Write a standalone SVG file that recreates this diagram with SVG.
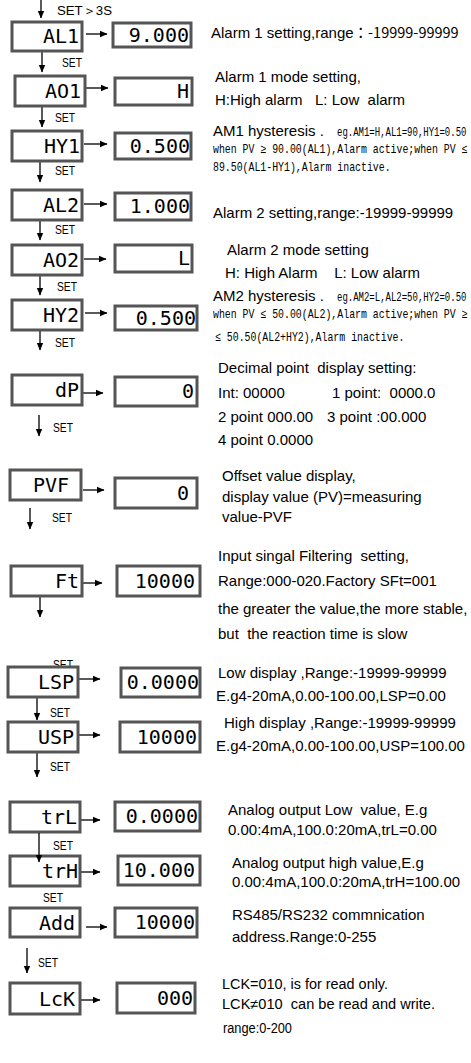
<svg xmlns="http://www.w3.org/2000/svg" width="471" height="1063" viewBox="0 0 471 1063">
<defs>
<marker id="ah" markerWidth="8" markerHeight="8" refX="7" refY="4" orient="auto" markerUnits="userSpaceOnUse">
<path d="M0,0.8 L7.5,4 L0,7.2 Z" fill="#000"/>
</marker>
<style>
.box{fill:#fff;stroke:#555;stroke-width:3}
.lcd{font-family:"DejaVu Sans Mono",monospace;font-size:20px;text-anchor:end;fill:#000}
.t{font-family:"Liberation Sans",Arial,sans-serif;font-size:15px;fill:#000}
.m{font-family:"Liberation Mono","Noto Sans CJK JP",monospace;font-size:12.5px;fill:#000}
.n{font-family:"Liberation Sans",Arial,sans-serif;font-size:14px;fill:#000}
.set{font-family:"Liberation Sans",Arial,sans-serif;font-size:13px;fill:#000}
.c{stroke:#000;stroke-width:1.3;fill:none;marker-end:url(#ah)}
</style>
</defs>
<rect width="471" height="1063" fill="#fff"/>

<g id="connectors">
<line class="c" x1="41" y1="0" x2="41" y2="18"/>
<line class="c" x1="42" y1="52" x2="42" y2="72"/>
<line class="c" x1="42" y1="107" x2="42" y2="127"/>
<line class="c" x1="40" y1="162" x2="40" y2="182"/>
<line class="c" x1="40" y1="221" x2="40" y2="240"/>
<line class="c" x1="40" y1="276" x2="40" y2="295"/>
<line class="c" x1="40" y1="331" x2="40" y2="350"/>
<line class="c" x1="39" y1="415" x2="39" y2="436"/>
<line class="c" x1="30" y1="508" x2="30" y2="529"/>
<line class="c" x1="40" y1="597" x2="40" y2="617"/>
<line class="c" x1="37" y1="698" x2="37" y2="720"/>
<line class="c" x1="37" y1="753" x2="37" y2="777"/>
<line class="c" x1="27" y1="948" x2="27" y2="973"/>
<line class="c" x1="86" y1="34" x2="107" y2="34"/>
<line class="c" x1="86" y1="88" x2="108" y2="88"/>
<line class="c" x1="84" y1="144" x2="107" y2="144"/>
<line class="c" x1="84" y1="204" x2="107" y2="204"/>
<line class="c" x1="84" y1="259" x2="106" y2="259"/>
<line class="c" x1="85" y1="313" x2="107" y2="313"/>
<line class="c" x1="82" y1="393" x2="103" y2="393"/>
<line class="c" x1="83" y1="490" x2="104" y2="490"/>
<line class="c" x1="80" y1="583" x2="102" y2="583"/>
<line class="c" x1="78" y1="679" x2="100" y2="679"/>
<line class="c" x1="78" y1="735" x2="100" y2="735"/>
<line class="c" x1="80" y1="820" x2="100" y2="820"/>
<line class="c" x1="80" y1="872" x2="100" y2="872"/>
<line class="c" x1="86" y1="927" x2="107" y2="927"/>
<line class="c" x1="80" y1="1000" x2="100" y2="1000"/>
</g>

<g id="set-labels">
<text class="set" x="57" y="15" textLength="55" lengthAdjust="spacingAndGlyphs">SET＞3S</text>
<text class="set" x="62" y="67" textLength="20" lengthAdjust="spacingAndGlyphs">SET</text>
<text class="set" x="55" y="122" textLength="20" lengthAdjust="spacingAndGlyphs">SET</text>
<text class="set" x="55" y="175" textLength="20" lengthAdjust="spacingAndGlyphs">SET</text>
<text class="set" x="55" y="234" textLength="20" lengthAdjust="spacingAndGlyphs">SET</text>
<text class="set" x="57" y="291" textLength="20" lengthAdjust="spacingAndGlyphs">SET</text>
<text class="set" x="55" y="347" textLength="20" lengthAdjust="spacingAndGlyphs">SET</text>
<text class="set" x="53" y="432" textLength="20" lengthAdjust="spacingAndGlyphs">SET</text>
<text class="set" x="52" y="522" textLength="20" lengthAdjust="spacingAndGlyphs">SET</text>
<text class="set" x="53" y="669" textLength="20" lengthAdjust="spacingAndGlyphs">SET</text>
<text class="set" x="50" y="717" textLength="20" lengthAdjust="spacingAndGlyphs">SET</text>
<text class="set" x="50" y="771" textLength="20" lengthAdjust="spacingAndGlyphs">SET</text>
<text class="set" x="53" y="850" textLength="20" lengthAdjust="spacingAndGlyphs">SET</text>
<text class="set" x="43" y="902" textLength="20" lengthAdjust="spacingAndGlyphs">SET</text>
<text class="set" x="38" y="967" textLength="20" lengthAdjust="spacingAndGlyphs">SET</text>
</g>

<g id="AL1"><rect class="box" x="12" y="22" width="70" height="29"/><text class="lcd" x="79" y="43">AL1</text></g>
<g id="AL1-val"><rect class="box" x="113" y="23" width="78" height="24"/><text class="lcd" x="189" y="42">9.000</text></g>
<g id="AO1"><rect class="box" x="15" y="76" width="70" height="30"/><text class="lcd" x="81" y="98">AO1</text></g>
<g id="AO1-val"><rect class="box" x="115" y="78" width="77" height="27"/><text class="lcd" x="189" y="98">H</text></g>
<g id="HY1"><rect class="box" x="12" y="131" width="70" height="30"/><text class="lcd" x="80" y="153">HY1</text></g>
<g id="HY1-val"><rect class="box" x="115" y="133" width="76" height="26"/><text class="lcd" x="190" y="153">0.500</text></g>
<g id="AL2"><rect class="box" x="12" y="190" width="70" height="30"/><text class="lcd" x="79" y="212">AL2</text></g>
<g id="AL2-val"><rect class="box" x="115" y="193" width="76" height="27"/><text class="lcd" x="190" y="213">1.000</text></g>
<g id="AO2"><rect class="box" x="12" y="245" width="70" height="30"/><text class="lcd" x="79" y="267">AO2</text></g>
<g id="AO2-val"><rect class="box" x="115" y="245" width="77" height="27"/><text class="lcd" x="190" y="265">L</text></g>
<g id="HY2"><rect class="box" x="12" y="300" width="70" height="30"/><text class="lcd" x="79" y="322">HY2</text></g>
<g id="HY2-val"><rect class="box" x="115" y="306" width="82" height="24"/><text class="lcd" x="196" y="325">0.500</text></g>
<g id="dP"><rect class="box" x="12" y="375" width="70" height="30"/><text class="lcd" x="79" y="397">dP</text></g>
<g id="dP-val"><rect class="box" x="115" y="377" width="82" height="29"/><text class="lcd" x="194" y="398">0</text></g>
<g id="PVF"><rect class="box" x="10" y="470" width="71" height="30"/><text class="lcd" x="69" y="492">PVF</text></g>
<g id="PVF-val"><rect class="box" x="115" y="478" width="82" height="30"/><text class="lcd" x="189" y="500">0</text></g>
<g id="Ft"><rect class="box" x="11" y="566" width="71" height="30"/><text class="lcd" x="79" y="588">Ft</text></g>
<g id="Ft-val"><rect class="box" x="117" y="566" width="83" height="30"/><text class="lcd" x="195" y="588">10000</text></g>
<g id="LSP"><rect class="box" x="8" y="667" width="70" height="30"/><text class="lcd" x="74" y="689">LSP</text></g>
<g id="LSP-val"><rect class="box" x="121" y="668" width="79" height="29"/><text class="lcd" x="199" y="689">0.0000</text></g>
<g id="USP"><rect class="box" x="8" y="722" width="70" height="30"/><text class="lcd" x="74" y="744">USP</text></g>
<g id="USP-val"><rect class="box" x="120" y="722" width="80" height="30"/><text class="lcd" x="197" y="744">10000</text></g>
<g id="trL"><rect class="box" x="10" y="802" width="70" height="30"/><text class="lcd" x="77" y="824">trL</text></g>
<g id="trL-val"><rect class="box" x="115" y="802" width="85" height="29"/><text class="lcd" x="198" y="823">0.0000</text></g>
<g id="trH"><rect class="box" x="10" y="856" width="70" height="30"/><text class="lcd" x="78" y="878">trH</text></g>
<g id="trH-val"><rect class="box" x="118" y="856" width="82" height="29"/><text class="lcd" x="195" y="877">10.000</text></g>
<line class="c" x1="39" y1="833" x2="39" y2="862"/>
<g id="Add"><rect class="box" x="10" y="908" width="70" height="29"/><text class="lcd" x="75" y="930">Add</text></g>
<g id="Add-val"><rect class="box" x="115" y="908" width="82" height="29"/><text class="lcd" x="195" y="929">10000</text></g>
<g id="LcK"><rect class="box" x="10" y="983" width="70" height="31"/><text class="lcd" x="75" y="1006">LcK</text></g>
<g id="LcK-val"><rect class="box" x="117" y="983" width="78" height="30"/><text class="lcd" x="193" y="1005">000</text></g>

<g id="descriptions">
<text class="t" x="211" y="38">Alarm 1 setting,range<tspan font-family="Noto Sans CJK JP, sans-serif" font-size="14.5">：-19999-99999</tspan></text>
<text class="t" x="215" y="82">Alarm 1 mode setting,</text>
<text class="t" x="215" y="105" xml:space="preserve">H:High alarm   L: Low  alarm</text>
<text class="t" x="213" y="136">AM1 hysteresis .</text>
<text class="m" transform="translate(337,136) scale(0.72,1)" x="0" y="0">eg.AM1=H,AL1=90,HY1=0.50</text>
<text class="m" transform="translate(213,153) scale(0.79,1)" x="0" y="0">when PV ≥ 90.00(AL1),Alarm active;when PV ≤</text>
<text class="m" transform="translate(213,171) scale(0.79,1)" x="0" y="0">89.50(AL1-HY1),Alarm inactive.</text>

<text class="t" x="213" y="218">Alarm 2 setting,range:-19999-99999</text>
<text class="t" x="227" y="255">Alarm 2 mode setting</text>
<text class="t" x="225" y="278" xml:space="preserve">H: High Alarm    L: Low alarm</text>
<text class="t" x="213" y="301">AM2 hysteresis .</text>
<text class="m" transform="translate(337,301) scale(0.72,1)" x="0" y="0">eg.AM2=L,AL2=50,HY2=0.50</text>
<text class="m" transform="translate(213,318) scale(0.79,1)" x="0" y="0">when PV ≤ 50.00(AL2),Alarm active;when PV ≥</text>
<text class="m" transform="translate(215,341) scale(0.79,1)" x="0" y="0">≤ 50.50(AL2+HY2),Alarm inactive.</text>

<text class="t" x="218" y="373" xml:space="preserve">Decimal point  display setting:</text>
<text class="t" x="218" y="398">Int: 00000</text>
<text class="t" x="332" y="398" xml:space="preserve">1 point:  0000.0</text>
<text class="t" x="218" y="422">2 point  000.00</text>
<text class="t" x="327" y="422">3 point :00.000</text>
<text class="t" x="218" y="445">4 point 0.0000</text>
<text class="t" x="222" y="481">Offset value display,</text>
<text class="t" x="222" y="502">display value (PV)=measuring</text>
<text class="t" x="222" y="522">value-PVF</text>
<text class="t" x="218" y="561" xml:space="preserve">Input singal Filtering  setting,</text>
<text class="t" x="218" y="586">Range:000-020.Factory SFt=001</text>
<text class="t" x="218" y="614">the greater the value,the more stable,</text>
<text class="t" x="218" y="639" xml:space="preserve">but  the reaction time is slow</text>
<text class="t" x="218" y="678">Low display ,Range:-19999-99999</text>
<text class="t" x="216" y="701">E.g4-20mA,0.00-100.00,LSP=0.00</text>
<text class="t" x="224" y="728">High display ,Range:-19999-99999</text>
<text class="t" x="216" y="751">E.g4-20mA,0.00-100.00,USP=100.00</text>
<text class="t" x="228" y="815" xml:space="preserve">Analog output Low  value, E.g</text>
<text class="t" x="228" y="835">0.00:4mA,100.0:20mA,trL=0.00</text>
<text class="t" x="232" y="868">Analog output high value,E.g</text>
<text class="t" x="232" y="887">0.00:4mA,100.0:20mA,trH=100.00</text>
<text class="t" x="232" y="920">RS485/RS232 commnication</text>
<text class="t" x="232" y="942">address.Range:0-255</text>
<text class="n" x="222" y="989" textLength="166" lengthAdjust="spacingAndGlyphs">LCK=010, is for read only.</text>
<text class="n" x="222" y="1009" textLength="213" lengthAdjust="spacingAndGlyphs" xml:space="preserve">LCK≠010  can be read and write.</text>
<text class="n" x="223" y="1033" textLength="69" lengthAdjust="spacingAndGlyphs">range:0-200</text>
</g>
</svg>
